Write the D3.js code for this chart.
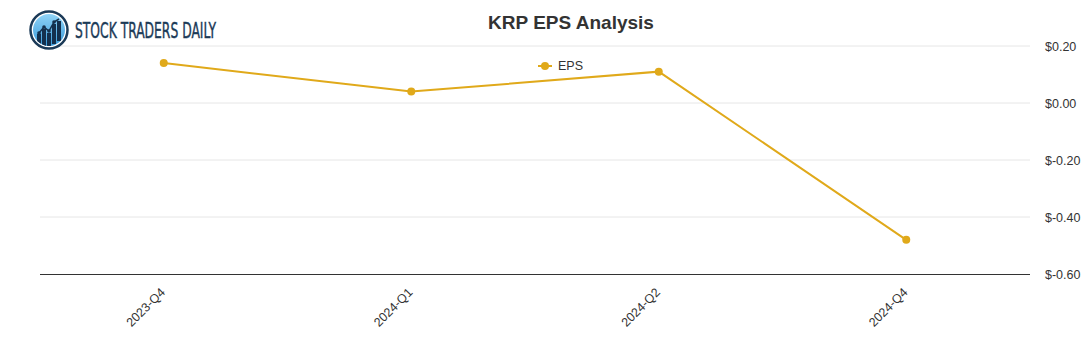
<!DOCTYPE html>
<html>
<head>
<meta charset="utf-8">
<script src="https://cdn.jsdelivr.net/npm/d3@7"></script>
<style>
  html, body { margin: 0; padding: 0; background: #fff; }
  svg { display: block; font-family: "Liberation Sans", Arial, sans-serif; }
</style>
</head>
<body>
<svg id="chart" width="1091" height="350"></svg>
<script>
// Quarterly EPS for KRP
const quarters = ["2023-Q4", "2024-Q1", "2024-Q2", "2024-Q4"];
const epsValues = [0.14, 0.04, 0.11, -0.48];
const yTicks = [0.20, 0.00, -0.20, -0.40, -0.60];
const seriesName = "EPS";
const chartTitle = "KRP EPS Analysis";

const lineColor = "#e0a91a";
const svg = d3.select("#chart");

const plot = { left: 40, right: 1030, top: 46, bottom: 274 };

const x = d3.scaleBand()
  .domain(quarters)
  .range([plot.left, plot.right]);

const y = d3.scaleLinear()
  .domain([-0.60, 0.20])
  .range([plot.bottom, plot.top]);

// Horizontal grid
svg.append("g")
  .selectAll("line")
  .data(yTicks.filter(v => v !== -0.60))
  .join("line")
  .attr("x1", plot.left)
  .attr("x2", plot.right)
  .attr("y1", d => y(d))
  .attr("y2", d => y(d))
  .attr("stroke", "#e6e6e6")
  .attr("stroke-width", 1);

// Right-hand value axis
const fmt = d => "$" + d3.format(".2f")(d).replace("−", "-");
const yAxis = svg.append("g")
  .attr("transform", `translate(${plot.right},0)`)
  .call(d3.axisRight(y).tickValues(yTicks).tickSize(0).tickPadding(15).tickFormat(fmt));
yAxis.select(".domain").remove();
yAxis.selectAll("text")
  .attr("fill", "#333")
  .style("font-size", "12.5px")
  .style("font-family", "'Liberation Sans', Arial, sans-serif");

// Category axis at the bottom
const xAxis = svg.append("g")
  .attr("transform", `translate(0,${plot.bottom})`)
  .call(d3.axisBottom(x).tickSize(0).tickPadding(0));
xAxis.select(".domain")
  .attr("stroke", "#333")
  .attr("stroke-width", 1.2)
  .attr("d", `M${plot.left},0.5H${plot.right}`);
xAxis.selectAll("text")
  .attr("fill", "#333")
  .style("font-size", "12.5px")
  .style("font-family", "'Liberation Sans', Arial, sans-serif")
  .attr("text-anchor", "end")
  .attr("dy", "0.35em")
  .attr("transform", "translate(-1,16) rotate(-45)");

// EPS line
const cx = d => x(d) + x.bandwidth() / 2;
const line = d3.line()
  .x((d, i) => cx(quarters[i]))
  .y(d => y(d));

svg.append("path")
  .datum(epsValues)
  .attr("fill", "none")
  .attr("stroke", lineColor)
  .attr("stroke-width", 2)
  .attr("d", line);

svg.append("g")
  .selectAll("circle")
  .data(epsValues)
  .join("circle")
  .attr("cx", (d, i) => cx(quarters[i]))
  .attr("cy", d => y(d))
  .attr("r", 4)
  .attr("fill", lineColor);

// Title
svg.append("text")
  .attr("x", 571)
  .attr("y", 29)
  .attr("text-anchor", "middle")
  .attr("fill", "#333")
  .style("font-size", "19px")
  .style("font-weight", "bold")
  .text(chartTitle);

// Legend
const legend = svg.append("g").attr("transform", "translate(538,66)");
legend.append("line")
  .attr("x1", 0).attr("x2", 14)
  .attr("y1", 0).attr("y2", 0)
  .attr("stroke", lineColor).attr("stroke-width", 2);
legend.append("circle")
  .attr("cx", 7).attr("cy", 0).attr("r", 4)
  .attr("fill", lineColor);
legend.append("text")
  .attr("x", 20).attr("y", 4)
  .attr("fill", "#333")
  .style("font-size", "12.5px")
  .text(seriesName);

// Brand mark
const logo = svg.append("g").attr("transform", "translate(49,30)");
const defs = svg.append("defs");
const grad = defs.append("linearGradient")
  .attr("id", "logoFill").attr("x1", 0).attr("y1", 0).attr("x2", 0).attr("y2", 1);
grad.append("stop").attr("offset", "0%").attr("stop-color", "#8fd3f7");
grad.append("stop").attr("offset", "100%").attr("stop-color", "#3a9ad9");
defs.append("clipPath").attr("id", "logoClip")
  .append("circle").attr("r", 16);

logo.append("circle").attr("r", 18.5).attr("fill", "#fff")
  .attr("stroke", "#1b3a57").attr("stroke-width", 2.5);
logo.append("circle").attr("r", 16).attr("fill", "url(#logoFill)");
const bars = logo.append("g").attr("clip-path", "url(#logoClip)");
[[-12, 4], [-7, -1], [-2, 3], [3, -6], [8, -9]].forEach(([bx, by]) => {
  bars.append("rect").attr("x", bx).attr("y", by).attr("width", 4).attr("height", 20)
    .attr("fill", "#14304d");
});
logo.append("polyline")
  .attr("points", "-10,3 -5,-3 0,1 5,-8 10,-11")
  .attr("fill", "none").attr("stroke", "#14304d").attr("stroke-width", 1.5);
[[-10, 3], [-5, -3], [0, 1], [5, -8]].forEach(([px, py]) => {
  logo.append("circle").attr("cx", px).attr("cy", py).attr("r", 1.8)
    .attr("fill", "#14304d");
});

svg.append("text")
  .attr("x", 75)
  .attr("y", 38)
  .attr("fill", "#1b3a57")
  .attr("stroke", "#1b3a57")
  .attr("stroke-width", 0.4)
  .attr("textLength", 141)
  .attr("lengthAdjust", "spacingAndGlyphs")
  .style("font-size", "21px")
  .style("font-family", "'Liberation Sans Narrow', 'DejaVu Sans Condensed', sans-serif")
  .text("STOCK TRADERS DAILY");
</script>
</body>
</html>
